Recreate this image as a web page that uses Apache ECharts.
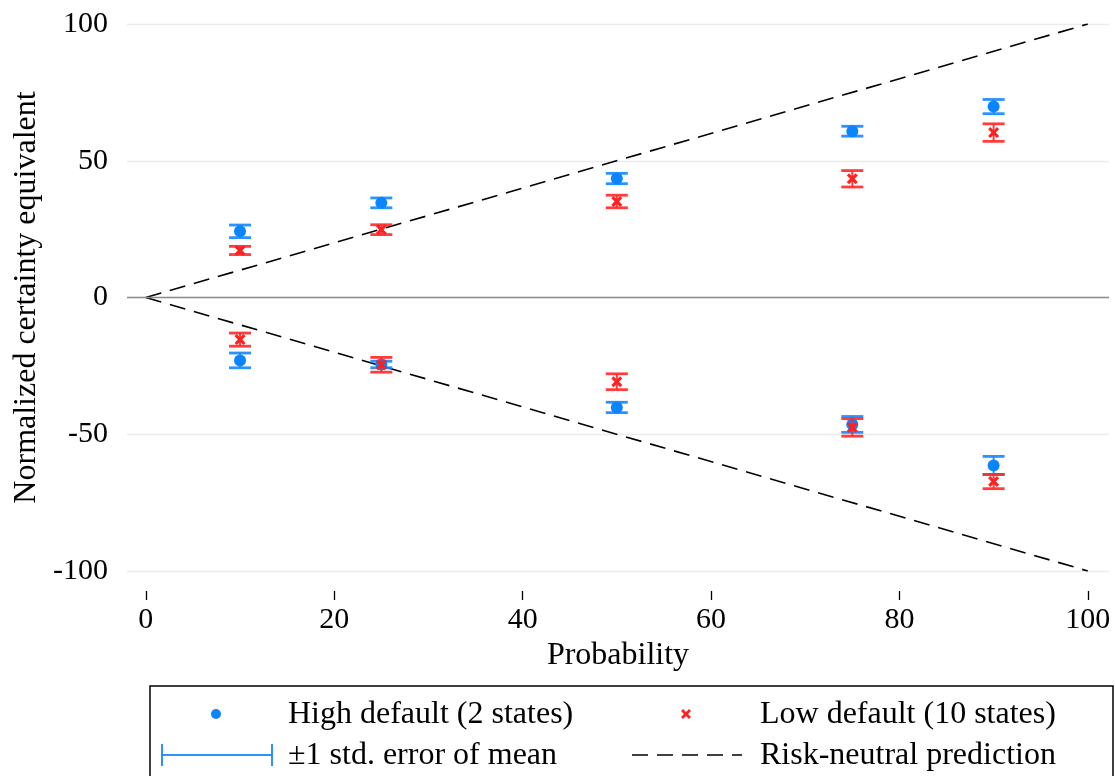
<!DOCTYPE html>
<html>
<head>
<meta charset="utf-8">
<script src="https://cdn.jsdelivr.net/npm/echarts@6/dist/echarts.min.js"></script>
<style>html,body{margin:0;padding:0;background:#fff;}#c{width:1115px;height:776px;}</style>
</head>
<body>
<div id="c"></div>
<script>
// ---- data ----
const probs = [10, 25, 50, 75, 90];
const highGainMean = [24.2, 34.6, 43.5, 60.8, 69.8];
const highGainSE   = [2.3, 1.8, 1.9, 1.8, 2.6];
const lowGainMean  = [17.2, 24.8, 35.1, 43.4, 60.3];
const lowGainSE    = [1.5, 1.8, 2.3, 3.0, 3.2];
const highLossMean = [-23.0, -24.5, -40.2, -46.4, -61.4];
const highLossSE   = [2.7, 1.2, 1.9, 2.9, 3.3];
const lowLossMean  = [-15.4, -24.6, -30.8, -47.5, -67.3];
const lowLossSE    = [2.4, 2.7, 2.9, 3.2, 2.6];
const xTicks = [0, 20, 40, 60, 80, 100];
const riskNeutralGain = [[0, 0], [100, 100]];
const riskNeutralLoss = [[0, 0], [100, -100]];

const FONT = 'Liberation Serif';
const BLUE = '#0a84ff';
const BLUE_BAR = 'rgba(20,135,255,0.9)';
const RED = '#ff2020';
const RED_BAR = 'rgba(255,40,40,0.9)';
const XPATH = 'path://M2,0 L5,3 L8,0 L10,2 L7,5 L10,8 L8,10 L5,7 L2,10 L0,8 L3,5 L0,2 Z';

function pts(means) { return probs.map((p, i) => [p, means[i]]); }
function bars(means, ses) { return probs.map((p, i) => [p, means[i] - ses[i], means[i] + ses[i]]); }

function errRender(color) {
  return function (params, api) {
    const x = api.value(0);
    const lo = api.coord([x, api.value(1)]);
    const hi = api.coord([x, api.value(2)]);
    const hw = 11;
    const st = { stroke: color, lineWidth: 2.8 };
    return {
      type: 'group',
      children: [
        { type: 'line', shape: { x1: lo[0], y1: lo[1], x2: hi[0], y2: hi[1] }, style: { stroke: color, lineWidth: 2 } },
        { type: 'line', shape: { x1: lo[0] - hw, y1: lo[1], x2: lo[0] + hw, y2: lo[1] }, style: st },
        { type: 'line', shape: { x1: hi[0] - hw, y1: hi[1], x2: hi[0] + hw, y2: hi[1] }, style: st }
      ]
    };
  };
}

function xPoly(cx, cy) {
  const base = [[2,0],[5,3],[8,0],[10,2],[7,5],[10,8],[8,10],[5,7],[2,10],[0,8],[3,5],[0,2]];
  return base.map(p => [cx - 5 + p[0], cy - 5 + p[1]]);
}

const chart = echarts.init(document.getElementById('c'), null, { renderer: 'canvas' });
const option = {
  animation: false,
  backgroundColor: '#fff',
  textStyle: { fontFamily: FONT },
  grid: { left: 127, right: 6, top: 24, bottom: 205 },
  xAxis: {
    type: 'value', min: -2, max: 102.25,
    offset: 20,
    name: 'Probability', nameLocation: 'middle', nameGap: 46,
    nameTextStyle: { fontFamily: FONT, fontSize: 32, color: '#000' },
    axisLine: { show: false, onZero: false },
    axisTick: { show: true, customValues: xTicks, length: 9, lineStyle: { color: '#000', width: 1.3 } },
    axisLabel: { customValues: xTicks, fontFamily: FONT, fontSize: 30, color: '#000', margin: 14 },
    splitLine: { show: false }
  },
  yAxis: {
    type: 'value', min: -100, max: 100, interval: 50,
    name: 'Normalized certainty equivalent', nameLocation: 'middle', nameGap: 81,
    nameTextStyle: { fontFamily: FONT, fontSize: 32, color: '#000' },
    axisLine: { show: false, onZero: false },
    axisTick: { show: false },
    axisLabel: { fontFamily: FONT, fontSize: 30, color: '#000', margin: 19 },
    splitLine: { show: true, lineStyle: { color: '#ececec', width: 1.3 } }
  },
  series: [
    {
      name: 'Risk-neutral prediction', type: 'line', data: riskNeutralGain,
      symbol: 'none', silent: true,
      lineStyle: { color: '#000', width: 1.6, type: [16, 9] },
      markLine: {
        silent: true, symbol: 'none', label: { show: false },
        lineStyle: { color: '#8c8c8c', width: 1.3, type: 'solid' },
        data: [{ yAxis: 0 }]
      },
      z: 3
    },
    {
      name: 'Risk-neutral prediction 2', type: 'line', data: riskNeutralLoss,
      symbol: 'none', silent: true,
      lineStyle: { color: '#000', width: 1.6, type: [16, 9] },
      z: 3
    },
    { name: 'High SE gain', type: 'custom', renderItem: errRender(BLUE_BAR), data: bars(highGainMean, highGainSE), z: 4 },
    { name: 'High SE loss', type: 'custom', renderItem: errRender(BLUE_BAR), data: bars(highLossMean, highLossSE), z: 4 },
    { name: 'High default gain', type: 'scatter', data: pts(highGainMean), symbol: 'circle', symbolSize: 12, itemStyle: { color: BLUE, opacity: 1 }, z: 5 },
    { name: 'High default loss', type: 'scatter', data: pts(highLossMean), symbol: 'circle', symbolSize: 12, itemStyle: { color: BLUE, opacity: 1 }, z: 5 },
    { name: 'Low SE gain', type: 'custom', renderItem: errRender(RED_BAR), data: bars(lowGainMean, lowGainSE), z: 6 },
    { name: 'Low SE loss', type: 'custom', renderItem: errRender(RED_BAR), data: bars(lowLossMean, lowLossSE), z: 6 },
    { name: 'Low default gain', type: 'scatter', data: pts(lowGainMean), symbol: XPATH, symbolSize: 11, itemStyle: { color: RED, opacity: 1 }, z: 7 },
    { name: 'Low default loss', type: 'scatter', data: pts(lowLossMean), symbol: XPATH, symbolSize: 11, itemStyle: { color: RED, opacity: 1 }, z: 7 }
  ],
  graphic: [
    { type: 'rect', shape: { x: 150, y: 686, width: 963, height: 120 }, style: { fill: '#fff', stroke: '#000', lineWidth: 1.5 }, z: 10 },
    { type: 'circle', shape: { cx: 216, cy: 714, r: 5 }, style: { fill: BLUE }, z: 11 },
    { type: 'text', x: 288, y: 715, style: { text: 'High default (2 states)', font: '32px "Liberation Serif"', fill: '#000', verticalAlign: 'middle' }, z: 11 },
    { type: 'polygon', shape: { points: xPoly(686, 714) }, style: { fill: RED }, z: 11 },
    { type: 'text', x: 760, y: 715, style: { text: 'Low default (10 states)', font: '32px "Liberation Serif"', fill: '#000', verticalAlign: 'middle' }, z: 11 },
    { type: 'line', shape: { x1: 162, y1: 755, x2: 272, y2: 755 }, style: { stroke: BLUE_BAR, lineWidth: 2 }, z: 11 },
    { type: 'line', shape: { x1: 162, y1: 744, x2: 162, y2: 766 }, style: { stroke: BLUE_BAR, lineWidth: 2 }, z: 11 },
    { type: 'line', shape: { x1: 272, y1: 744, x2: 272, y2: 766 }, style: { stroke: BLUE_BAR, lineWidth: 2 }, z: 11 },
    { type: 'text', x: 288, y: 756, style: { text: '\u00b11 std. error of mean', font: '32px "Liberation Serif"', fill: '#000', verticalAlign: 'middle' }, z: 11 },
    { type: 'line', shape: { x1: 632, y1: 755, x2: 742, y2: 755 }, style: { stroke: '#000', lineWidth: 1.5, lineDash: [16, 9] }, z: 11 },
    { type: 'text', x: 760, y: 756, style: { text: 'Risk-neutral prediction', font: '32px "Liberation Serif"', fill: '#000', verticalAlign: 'middle' }, z: 11 }
  ]
};
chart.setOption(option);
</script>
</body>
</html>
